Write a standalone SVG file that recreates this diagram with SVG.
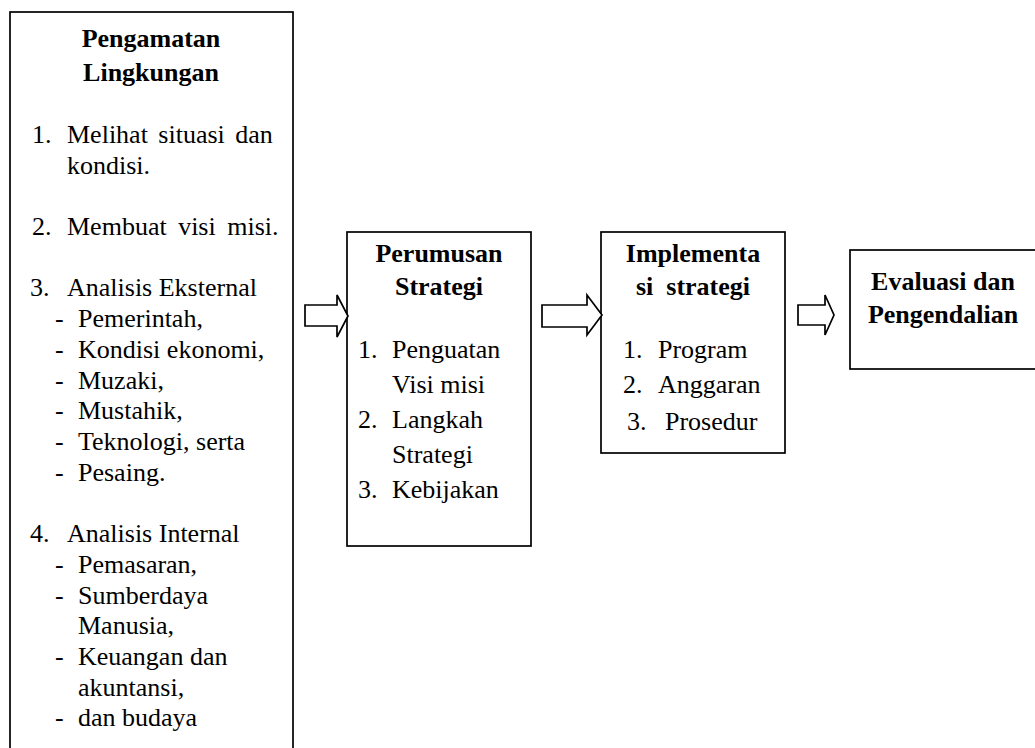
<svg xmlns="http://www.w3.org/2000/svg" width="1035" height="748" viewBox="0 0 1035 748">
<style>
.box{fill:#fff;stroke:#000;stroke-width:1.7}
.arr{fill:#fff;stroke:#000;stroke-width:1.7;stroke-linejoin:miter}
text{font-family:'Liberation Serif','Tinos','Times New Roman','DejaVu Serif',serif;font-size:26px;fill:#000}
.h{font-weight:bold;text-anchor:middle}
</style>
<rect width="1035" height="748" fill="#fff"/>
<g font-family="'Liberation Serif', 'Tinos', 'Times New Roman', 'DejaVu Serif', serif">
<g id="pengamatan">
<rect class="box" x="10" y="12" width="283" height="750"/>
<text class="h" x="151" y="47">Pengamatan</text>
<text class="h" x="151" y="81">Lingkungan</text>
<text x="32" y="143">1.</text><text x="67" y="143" word-spacing="4">Melihat situasi dan</text>
<text x="67" y="174">kondisi.</text>
<text x="32" y="235">2.</text><text x="67" y="235" word-spacing="5">Membuat visi misi.</text>
<text x="30" y="296">3.</text><text x="67" y="296">Analisis Eksternal</text>
<text x="55" y="327">-</text><text x="78" y="327">Pemerintah,</text>
<text x="55" y="358">-</text><text x="78" y="358">Kondisi ekonomi,</text>
<text x="55" y="389">-</text><text x="78" y="389">Muzaki,</text>
<text x="55" y="419">-</text><text x="78" y="419">Mustahik,</text>
<text x="55" y="450">-</text><text x="78" y="450">Teknologi, serta</text>
<text x="55" y="481">-</text><text x="78" y="481">Pesaing.</text>
<text x="30" y="542">4.</text><text x="67" y="542">Analisis Internal</text>
<text x="55" y="573">-</text><text x="78" y="573">Pemasaran,</text>
<text x="55" y="604">-</text><text x="78" y="604">Sumberdaya</text>
<text x="78" y="634">Manusia,</text>
<text x="55" y="665">-</text><text x="78" y="665">Keuangan dan</text>
<text x="78" y="696">akuntansi,</text>
<text x="55" y="726">-</text><text x="78" y="726">dan budaya</text>
</g>
<g id="perumusan">
<rect class="box" x="347" y="232" width="184" height="314"/>
<text class="h" x="439" y="262">Perumusan</text>
<text class="h" x="439" y="295">Strategi</text>
<text x="358" y="358">1.</text><text x="392" y="358">Penguatan</text>
<text x="392" y="393">Visi misi</text>
<text x="358" y="428">2.</text><text x="392" y="428">Langkah</text>
<text x="392" y="463">Strategi</text>
<text x="358" y="498">3.</text><text x="392" y="498">Kebijakan</text>
</g>
<g id="implementasi">
<rect class="box" x="601" y="232" width="184" height="221"/>
<text class="h" x="693" y="262">Implementa</text>
<text class="h" x="693" y="295" xml:space="preserve">si  strategi</text>
<text x="623" y="358">1.</text><text x="658" y="358">Program</text>
<text x="623" y="393">2.</text><text x="658" y="393">Anggaran</text>
<text x="627" y="430">3.</text><text x="665" y="430">Prosedur</text>
</g>
<g id="evaluasi">
<rect class="box" x="850" y="250" width="190" height="119"/>
<text class="h" x="943" y="290">Evaluasi dan</text>
<text class="h" x="943" y="323">Pengendalian</text>
</g>
</g>
<g id="connectors">
<polygon class="arr" points="305,305 337,305 337,295 348,316 337,337 337,326 305,326"/>
<polygon class="arr" points="542,305 587,305 587,295 602,315 587,335 587,327 542,327"/>
<polygon class="arr" points="798,305 825,305 825,295 834,315 825,335 825,325 798,325"/>
</g>
</svg>
